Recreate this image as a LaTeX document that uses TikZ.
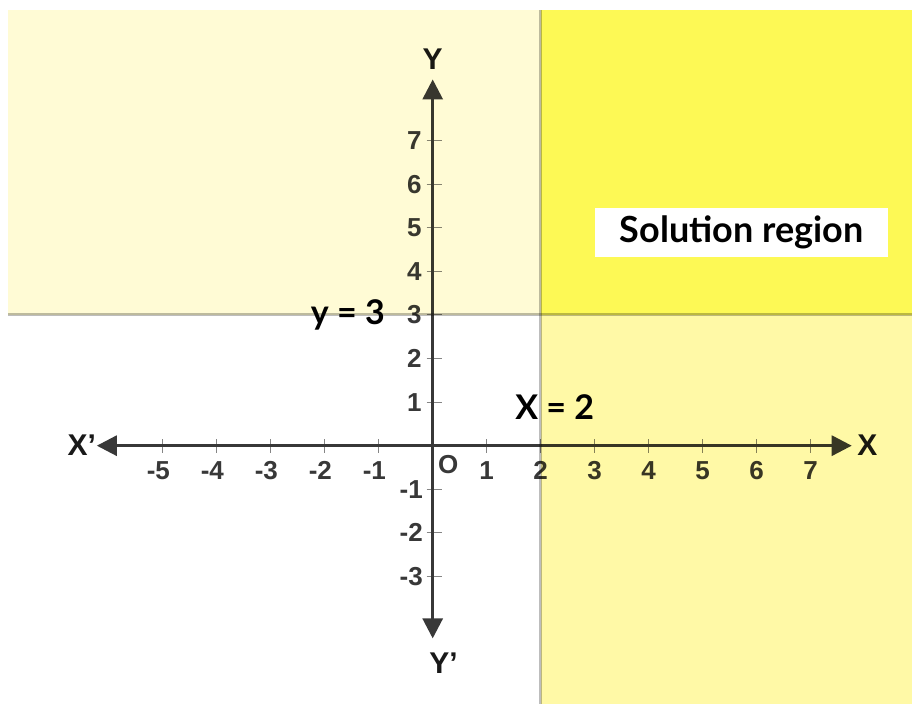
\documentclass[tikz,border=0pt]{standalone}
\usepackage{fontspec}
\setmainfont{Liberation Sans}
\newfontfamily\labelfont{Lato}
\usetikzlibrary{arrows.meta}
\definecolor{axisGray}{HTML}{383838}
\definecolor{tickGray}{HTML}{858585}
\definecolor{lineGray}{HTML}{BDBDBD}
\definecolor{creamY}{HTML}{FFFBD5}
\definecolor{brightY}{HTML}{FDF955}
\definecolor{paleY}{HTML}{FFF9A6}

\begin{document}
\begin{tikzpicture}[x=54pt, y=43.6pt,
  axis/.style={draw=axisGray, line width=3pt,
               {Triangle[length=20pt,width=20pt]}-{Triangle[length=20pt,width=20pt]}},
  tickmark/.style={draw=tickGray, line width=1pt},
  ticklbl/.style={font=\fontsize{26}{26}\selectfont\bfseries, text=axisGray, inner sep=0pt},
  axlbl/.style={font=\fontsize{30}{30}\selectfont\bfseries, text=black!90, inner sep=0pt},
  bound/.style={draw=lineGray, line width=3pt},
  eqlbl/.style={font=\labelfont\fontsize{34}{34}\selectfont\bfseries, inner sep=0pt},
  solbox/.style={fill=white, minimum width=293pt, minimum height=49pt,
                 font=\labelfont\fontsize{36}{36}\selectfont\bfseries},
]
  \useasboundingbox (-8.013,-5.924) rectangle (8.876,10.222);

  % ticks and their numbers
  \foreach \n in {1,...,7} {
    \draw[tickmark] (\n,0) ++(0,-7pt) -- ++(0,14pt);
    \node[ticklbl] (xp\n) at (\n,-0.57) {\n};
  }
  \foreach \n in {1,...,5} {
    \draw[tickmark] (-\n,0) ++(0,-7pt) -- ++(0,14pt);
    \node[ticklbl] (xn\n) at (-\n,-0.57) {\llap{-}\n};
  }
  \foreach \n in {1,...,7} {
    \draw[tickmark] (0,\n) ++(-6pt,0) -- ++(15pt,0);
    \node[ticklbl, anchor=east] (yp\n) at (-0.2,\n) {\n};
  }
  \foreach \n in {1,2,3} {
    \draw[tickmark] (0,-\n) ++(-6pt,0) -- ++(15pt,0);
    \node[ticklbl, anchor=east] (yn\n) at (-0.18,-\n) {-\n};
  }

  % axes
  \coordinate (xminus) at (-6.22,0);
  \coordinate (xplus)  at (7.76,0);
  \coordinate (yminus) at (0,-4.42);
  \coordinate (yplus)  at (0,8.40);
  \draw[axis] (xminus) -- (xplus);
  \draw[axis] (yminus) -- (yplus);

  \node[axlbl] (xneg) at (-6.50,0) {X'};
  \node[axlbl] (xpos) at (8.05,0) {X};
  \node[axlbl] (ypos) at (0,8.86) {Y};
  \node[axlbl] (yneg) at (0.2,-4.98) {Y'};
  \node[ticklbl] (orig) at (0.29,-0.44) {O};

  % shaded half planes
  \begin{scope}[blend mode=multiply]
    \fill[creamY]  (-7.86,3) rectangle (2,9.99);
    \fill[brightY] (2,3) rectangle (8.876,9.99);
    \fill[paleY]   (2,-5.924) rectangle (8.876,3);
    \draw[bound] (2,9.99) -- (2,-5.924);
    \draw[bound] (-7.86,3) -- (8.876,3);
  \end{scope}

  \node[eqlbl] (yeq) at (-1.57,3) {y = 3};
  \node[eqlbl] (xeq) at (2.26,0.89) {X = 2};
  \node[solbox] (sol) at (5.72,4.89) {Solution region};
\end{tikzpicture}
\end{document}
